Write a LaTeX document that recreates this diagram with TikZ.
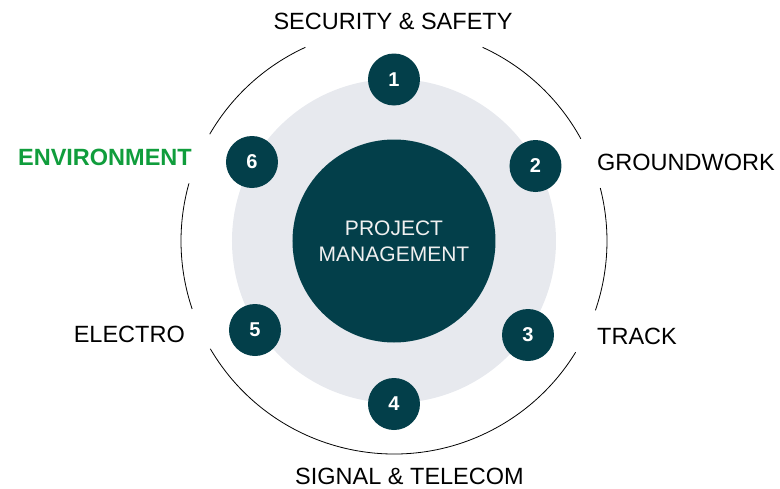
\documentclass[tikz,border=0pt]{standalone}
\usepackage{fontspec}
\setmainfont{Liberation Sans}
\definecolor{teal}{HTML}{033F4A}
\definecolor{ringgray}{HTML}{E7E9EE}
\definecolor{envgreen}{HTML}{109D3C}

\begin{document}
\begin{tikzpicture}[x=1pt, y=1pt,
  num/.style = {circle, fill=teal, minimum size=52pt, inner sep=0pt, text=white, font=\fontsize{20}{24}\selectfont\bfseries},
  lbl/.style = {inner sep=0pt, font=\fontsize{23.5}{28}\selectfont},
  ring/.style = {draw=black, line width=0.8pt}]
\useasboundingbox (-394,241) rectangle (386,-247);
\coordinate (c) at (0,0);
% background disc and centre
\fill[ringgray] (c) circle[radius=162];
\node[circle, fill=teal, minimum size=203pt, inner sep=0pt, text=white!94!black, align=center, font=\fontsize{21}{25.7}\selectfont] (pm) at (c) {PROJECT\\MANAGEMENT};
% outer ring pieces
\draw[ring] (c) ++(28.7:213) arc[start angle=28.7, end angle=65.4, radius=213];
\draw[ring] (c) ++(-19:213) arc[start angle=-19, end angle=14.4, radius=213];
\draw[ring] (c) ++(-149.6:213) arc[start angle=-149.6, end angle=-31.5, radius=213];
\draw[ring] (c) ++(164.3:213) arc[start angle=164.3, end angle=198.6, radius=213];
\draw[ring] (c) ++(114.6:213) arc[start angle=114.6, end angle=149.9, radius=213];
% numbered steps
\node[num] (n1) at (0,161.5) {1};
\node[num] (n2) at (141.5,75) {2};
\node[num] (n3) at (134,-94) {3};
\node[num] (n4) at (0,-163) {4};
\node[num] (n5) at (-139,-89) {5};
\node[num] (n6) at (-142,79) {6};
% labels
\node[lbl] (security) at (-1,219.5) {SECURITY \& SAFETY};
\node[lbl, anchor=west] (groundwork) at (203,79) {GROUNDWORK};
\node[lbl, anchor=west] (track) at (203,-95) {TRACK};
\node[lbl] (signal) at (15.5,-235.5) {SIGNAL \& TELECOM};
\node[lbl, anchor=east] (electro) at (-209,-93.7) {ELECTRO};
\node[lbl, anchor=east, text=envgreen, font=\fontsize{23.5}{28}\selectfont\bfseries] (environment) at (-202,84) {ENVIRONMENT};
\end{tikzpicture}
\end{document}
